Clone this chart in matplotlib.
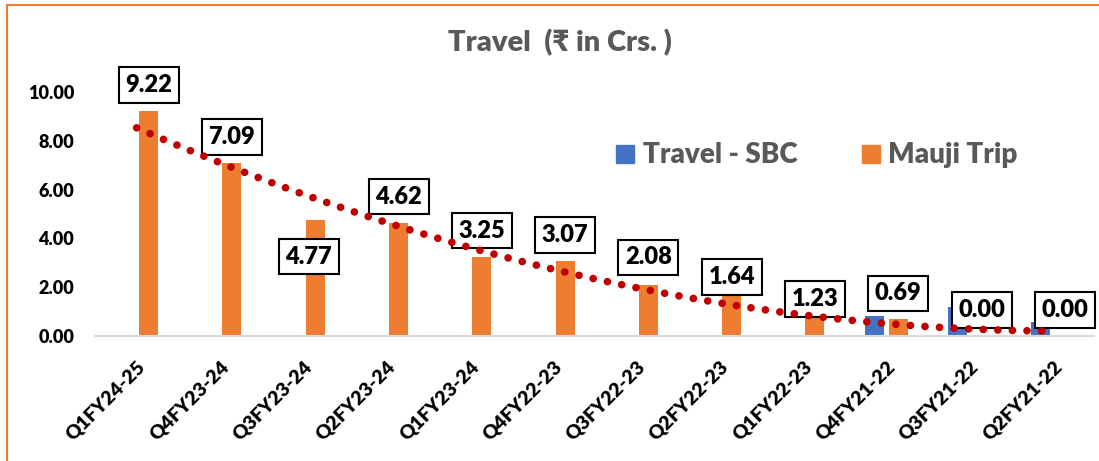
import numpy as np
import matplotlib
matplotlib.use("Agg")
import matplotlib.pyplot as plt
from matplotlib.patches import Rectangle
from matplotlib.lines import Line2D
import matplotlib.transforms as mtransforms
from matplotlib import font_manager

# ---- data ----
categories = ["Q1FY24-25", "Q4FY23-24", "Q3FY23-24", "Q2FY23-24", "Q1FY23-24",
              "Q4FY22-23", "Q3FY22-23", "Q2FY22-23", "Q1FY22-23", "Q4FY21-22",
              "Q3FY21-22", "Q2FY21-22"]
travel_sbc = [0, 0, 0, 0, 0, 0, 0, 0, 0, 0.82, 1.19, 0.56]
mauji_trip = [9.22, 7.09, 4.77, 4.62, 3.25, 3.07, 2.08, 1.64, 1.23, 0.69, 0.00, 0.00]
yticks = [0, 2, 4, 6, 8, 10]
title = "Travel  (\u20b9 in Crs. )"
series_names = ["Travel - SBC", "Mauji Trip"]

# label offsets (pixels) relative to top of orange bar
label_dx = [0, 0, -6.5, 0, 0, 0, 0, 0, 0, 0, 0, 0]
label_dy = [26, 26, -37, 26.5, 26, 26, 28, 19, 7, 26, 26, 26]

BLUE = "#4472C4"
ORANGE = "#ED7D31"
GRAY = "#595959"
RED = "#C00000"
FONT = ["Lato", "DejaVu Sans"]
WEIGHT = "heavy"

W, H = 1099, 461
fig = plt.figure(figsize=(W / 100, H / 100), dpi=100)
fig.patch.set_facecolor("white")

ax = fig.add_axes([95 / W, (H - 336) / H, (1094.5 - 95) / W, 244 / H])
ax.set_facecolor("none")

x = np.arange(len(categories))
off = 0.144
bw = 0.228
ax.bar(x - off, travel_sbc, width=bw, color=BLUE, zorder=2)
ax.bar(x + off, mauji_trip, width=bw, color=ORANGE, zorder=2)

# polynomial (order 2) trendline of Mauji Trip
coef = np.polyfit(x, mauji_trip, 2)
xs = np.linspace(0, len(categories) - 1, 400)
ax.plot(xs, np.polyval(coef, xs), color=RED, lw=5.5,
        linestyle=(0, (0.01, 1.9)), dash_capstyle="round", zorder=5,
        clip_on=False)

# data labels
for i, v in enumerate(mauji_trip):
    ax.annotate(f"{v:.2f}", xy=(i + off, v), xytext=(label_dx[i], label_dy[i]),
                textcoords="offset pixels", ha="center", va="center",
                fontsize=17, fontweight=WEIGHT, family=FONT, color="black",
                bbox=dict(boxstyle="square,pad=0.28", fc="white", ec="black", lw=1.5),
                zorder=4, annotation_clip=False)

ax.set_xlim(-0.5, len(categories) - 0.5)
ax.set_ylim(0, 10)
ax.set_yticks(yticks)
ax.set_yticklabels([f"{t:.2f}" for t in yticks], fontsize=13, fontweight=WEIGHT,
                   family=FONT, color="black")
ax.tick_params(axis="y", length=0, pad=15)
ax.set_xticks(x)
ax.set_xticklabels(categories, rotation=45, ha="right", va="center",
                   rotation_mode="anchor", fontsize=14, fontweight=WEIGHT,
                   family=FONT, color="black")
ax.tick_params(axis="x", length=0, pad=20)
shift = mtransforms.ScaledTranslation(6 / 100, 0, fig.dpi_scale_trans)
for lab in ax.get_xticklabels():
    lab.set_transform(lab.get_transform() + shift)

for s in ["top", "right", "left"]:
    ax.spines[s].set_visible(False)
ax.spines["bottom"].set_color("#D9D9D9")
ax.spines["bottom"].set_linewidth(1.5)

# title
fig.text(559.5 / W, 1 - 51.7 / H, title, ha="center", va="baseline",
         fontsize=21, fontweight=WEIGHT, family=FONT, color=GRAY)

# legend (manual)
for (sx, tx, col, name) in [(616, 643, BLUE, series_names[0]),
                            (862, 888, ORANGE, series_names[1])]:
    fig.add_artist(Rectangle((sx / W, 1 - 162.7 / H), 18 / W, 18 / H,
                             transform=fig.transFigure, color=col))
    fig.text(tx / W, 1 - 162.7 / H, name, ha="left", va="baseline",
             fontsize=20, fontweight=WEIGHT, family=FONT, color=GRAY)

# chart border (orange), left and top visible
fig.add_artist(Line2D([7 / W, 7 / W], [0, 1 - 5 / H], transform=fig.transFigure,
                      color=ORANGE, lw=1.5))
fig.add_artist(Line2D([7 / W, 1], [1 - 5 / H, 1 - 5 / H], transform=fig.transFigure,
                      color=ORANGE, lw=1.5))

fig.savefig("out.png", dpi=100, facecolor="white")
